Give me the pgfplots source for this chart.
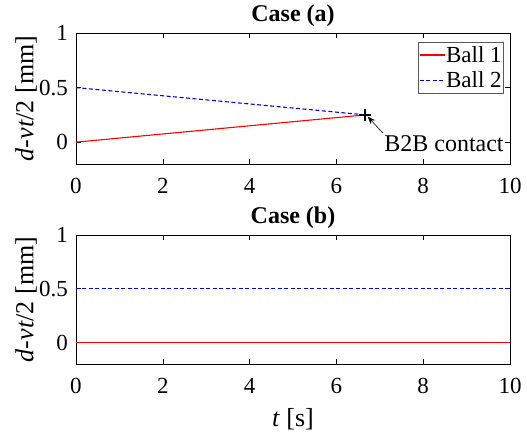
\documentclass[border=0pt]{standalone}
\usepackage{pgfplots}
\pgfplotsset{compat=1.18}
\usepackage{fontspec}
\setmainfont{Liberation Serif}
\usetikzlibrary{arrows.meta}
\definecolor{mred}{rgb}{1,0,0}
\definecolor{mblue}{rgb}{0,0,1}
\begin{document}
\begin{tikzpicture}
\pgfplotsset{
  mystyle/.style={
    scale only axis, width=434pt,
    xmin=0, xmax=10, ymin=-0.2, ymax=1,
    xtick={0,2,4,6,8,10}, ytick={0,0.5,1},
    tick align=inside, major tick length=5pt,
    every tick/.style={black, line width=0.6pt},
    axis line style={black, line width=0.7pt},
    /pgf/number format/assume math mode=true,
    ticklabel style={font=\fontsize{23}{27}\selectfont, inner sep=0pt},
    xticklabel style={anchor=base, yshift=-29pt},
    yticklabel style={anchor=east, xshift=-8pt},
    label style={font=\fontsize{26}{30}\selectfont},
    ylabel={\textit{d}-\textit{vt}/2 [mm]},
    ylabel style={at={(axis description cs:0,0.5)}, anchor=center, yshift=50pt, inner sep=0pt},
  }
}
\begin{axis}[mystyle, name=top, at={(0,0)}, height=131pt,
  legend style={at={(axis description cs:1,1)}, anchor=north east, xshift=-6pt, yshift=-9pt,
    draw=gray!70!black, line width=0.6pt, fill=white,
    font=\fontsize{23}{27}\selectfont, inner xsep=1pt, inner ysep=3pt, row sep=6pt,
    nodes={inner xsep=1pt, inner ysep=1pt}},
  legend cell align=left]
\addlegendimage{legend image code/.code={\draw[draw=mred, line width=1.2pt] (0pt,0pt) -- (25pt,0pt);}}
\addlegendentry{Ball 1}
\addlegendimage{legend image code/.code={\draw[draw=mblue, line width=1.2pt, dash pattern=on 4pt off 2.5pt] (0pt,0pt) -- (25pt,0pt);}}
\addlegendentry{Ball 2}
\addplot[color=mred, line width=1.1pt, forget plot] coordinates {(0,0) (6.667,0.25)};
\addplot[color=mblue, line width=1.1pt, dash pattern=on 4pt off 2.5pt, forget plot] coordinates {(0,0.5) (6.667,0.25)};
\addplot[only marks, mark=+, black, mark size=6pt, line width=1.8pt, forget plot] coordinates {(6.667,0.25)};
\draw[-{Stealth[length=8pt,width=6pt]}, line width=0.6pt] (axis cs:7.07,0.084) -- (axis cs:6.72,0.235);
\node[anchor=base west, inner sep=0pt, font=\fontsize{24}{28}\selectfont] at (axis cs:7.1,-0.09) {B2B contact};
\end{axis}
\node[anchor=base, inner sep=0pt, font=\fontsize{24}{28}\selectfont\bfseries] at ([yshift=11pt]top.north) {Case (a)};
\begin{axis}[mystyle, name=bot, at={(0,-200pt)}, height=129pt, xlabel={\textit{t} [s]},
  xlabel style={at={(axis description cs:0.5,0)}, anchor=base, yshift=-62pt, inner sep=0pt}]
\addplot[color=mred, line width=1.1pt] coordinates {(0,0) (10,0)};
\addplot[color=mblue, line width=1.1pt, dash pattern=on 4pt off 2.5pt] coordinates {(0,0.5) (10,0.5)};
\end{axis}
\node[anchor=base, inner sep=0pt, font=\fontsize{24}{28}\selectfont\bfseries] at ([yshift=12pt]bot.north) {Case (b)};
\pgfresetboundingbox
\path (-76pt,-267pt) rectangle (451pt,164pt);
\end{tikzpicture}
\end{document}
